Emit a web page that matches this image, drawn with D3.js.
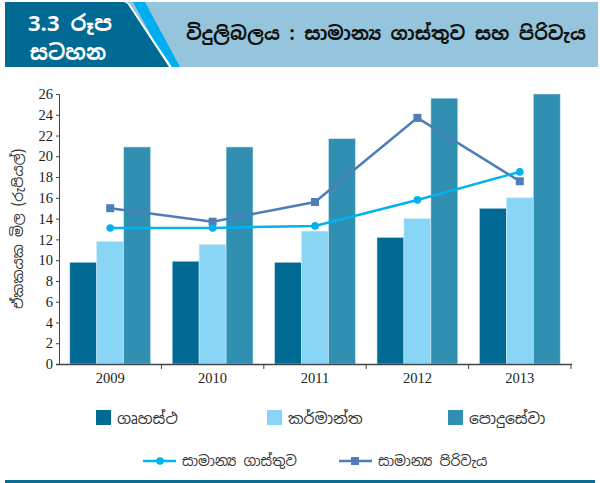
<!DOCTYPE html>
<html>
<head>
<meta charset="utf-8">
<script src="https://cdn.jsdelivr.net/npm/d3@7/dist/d3.min.js"></script>
<style>
  body { margin: 0; background: #fff; }
  svg { display: block; }
  .si { font-family: "Noto Sans Sinhala", "Iskoola Pota", "Noto Sans", sans-serif; }
  .tick text { font-family: "Liberation Serif", "DejaVu Serif", serif; }
</style>
</head>
<body>
<div id="chart"></div>
<script>
var years = ["2009", "2010", "2011", "2012", "2013"];
var barKeys = ["ගෘහස්ථ", "කර්මාන්ත", "පොදුසේවා"];
var domestic = [9.8, 9.9, 9.8, 12.2, 15.0];
var industrial = [11.8, 11.5, 12.8, 14.0, 16.0];
var publicService = [20.9, 20.9, 21.7, 25.6, 26.0];
var avgTariff = [13.1, 13.1, 13.3, 15.8, 18.5];
var avgCost = [15.0, 13.7, 15.6, 23.7, 17.6];
var lineKeys = ["සාමාන්‍ය ගාස්තුව", "සාමාන්‍ය පිරිවැය"];
var yTicks = [0, 2, 4, 6, 8, 10, 12, 14, 16, 18, 20, 22, 24, 26];
var yTitle = "ඒකකයක මිල (රුපියල්)";
var headNum = "3.3 රූප";
var headWord = "සටහන";
var title = "විදුලිබලය : සාමාන්‍ය ගාස්තුව සහ පිරිවැය";

var barColors = ["#006a95", "#89d5f5", "#3190b1"];
var lineColors = ["#00b3ee", "#4d7eb7"];

var W = 600, H = 483;
var svg = d3.select("#chart").append("svg")
	.attr("width", W)
	.attr("height", H);

// header
svg.append("rect").attr("x", 5).attr("y", 2).attr("width", 593).attr("height", 65).attr("fill", "#95c5dc");
svg.append("path")
	.attr("d", "M133,2 L145,2 L180,67 L168,67 Z")
	.attr("fill", "#00aeef");
svg.append("path")
	.attr("d", "M5,2 L124,2 Q129,2 131,6 L172,67 L5,67 Z")
	.attr("fill", "#fff");
svg.append("path")
	.attr("d", "M5,2 L122,2 Q127,2 129,6 L169,67 L5,67 Z")
	.attr("fill", "#006a94");
svg.append("text").attr("class", "si")
	.attr("x", 70).attr("y", 31)
	.attr("text-anchor", "middle")
	.attr("font-size", 22).attr("font-weight", "bold")
	.attr("fill", "#fff")
	.text(headNum);
svg.append("text").attr("class", "si")
	.attr("x", 68).attr("y", 60)
	.attr("text-anchor", "middle")
	.attr("font-size", 21).attr("font-weight", "bold")
	.attr("fill", "#fff")
	.text(headWord);
var tt = svg.append("text").attr("class", "si")
	.attr("x", 186).attr("y", 40)
	.attr("font-size", 21).attr("font-weight", "bold")
	.attr("fill", "#111")
	.text(title);
// fit title into the band like the reference (about 186..586)
var tw = tt.node().getComputedTextLength();
if (tw > 400) tt.attr("font-size", 21 * 400 / tw);

// scales
var x0 = d3.scaleBand().domain(years).range([59, 571]).paddingInner(0).paddingOuter(0);
var x1 = d3.scaleBand().domain(barKeys).range([0, x0.bandwidth()]).paddingInner(0).paddingOuter(0.4);
var y = d3.scaleLinear().domain([0, 26]).range([364, 94]);

var barSeries = [domestic, industrial, publicService];

// bars
var groups = svg.selectAll("g.year")
	.data(years)
	.enter()
	.append("g")
	.attr("class", "year")
	.attr("transform", function(d) { return "translate(" + x0(d) + ",0)"; });

groups.selectAll("rect")
	.data(function(d, i) {
		return barKeys.map(function(k, j) { return { key: k, j: j, v: barSeries[j][i] }; });
	})
	.enter()
	.append("rect")
	.attr("x", function(d) { return x1(d.key); })
	.attr("width", x1.bandwidth())
	.attr("y", function(d) { return y(d.v); })
	.attr("height", function(d) { return y(0) - y(d.v); })
	.attr("fill", function(d) { return barColors[d.j]; })
	.attr("stroke", "#cfe9f4")
	.attr("stroke-width", 0.6);

// axes
var yAxis = svg.append("g")
	.attr("transform", "translate(59,0)")
	.call(d3.axisLeft(y).tickValues(yTicks).tickSize(3).tickPadding(3));
yAxis.selectAll("text").attr("font-size", 14.5).attr("fill", "#222");
yAxis.selectAll("line, path").attr("stroke", "#444");
yAxis.select(".domain").attr("d", "M-3,94.5H0.5V364.5");

var xAxis = svg.append("g")
	.attr("transform", "translate(0,364)")
	.call(d3.axisBottom(x0).tickSize(0).tickPadding(9));
xAxis.selectAll("text").attr("font-size", 14.5).attr("fill", "#222");
xAxis.select(".domain").attr("stroke", "#444").attr("stroke-width", 1.5).attr("d", "M56,0.5H572");
xAxis.selectAll("line.sep")
	.data(years)
	.enter()
	.append("line")
	.attr("class", "sep")
	.attr("x1", function(d) { return x0(d) + x0.bandwidth(); })
	.attr("x2", function(d) { return x0(d) + x0.bandwidth(); })
	.attr("y1", 0).attr("y2", 5)
	.attr("stroke", "#444");

svg.append("text").attr("class", "si")
	.attr("transform", "translate(23,229) rotate(-90)")
	.attr("text-anchor", "middle")
	.attr("font-size", 14)
	.attr("fill", "#333")
	.text(yTitle);

// lines
var cx = function(d, i) { return x0(years[i]) + x0.bandwidth() / 2; };
var line = d3.line().x(cx).y(function(d) { return y(d); });

svg.append("path").datum(avgCost)
	.attr("d", line).attr("fill", "none")
	.attr("stroke", lineColors[1]).attr("stroke-width", 2.5);
svg.selectAll("rect.sq")
	.data(avgCost)
	.enter()
	.append("rect")
	.attr("class", "sq")
	.attr("x", function(d, i) { return cx(d, i) - 4; })
	.attr("y", function(d) { return y(d) - 4; })
	.attr("width", 8).attr("height", 8)
	.attr("fill", lineColors[1]);

svg.append("path").datum(avgTariff)
	.attr("d", line).attr("fill", "none")
	.attr("stroke", lineColors[0]).attr("stroke-width", 2.5);
svg.selectAll("circle.dot")
	.data(avgTariff)
	.enter()
	.append("circle")
	.attr("class", "dot")
	.attr("cx", cx)
	.attr("cy", function(d) { return y(d); })
	.attr("r", 3.8)
	.attr("fill", lineColors[0]);

// legend, bars
var legX = [96, 267, 448];
barKeys.forEach(function(k, j) {
	svg.append("rect")
		.attr("x", legX[j]).attr("y", 410)
		.attr("width", 15).attr("height", 15)
		.attr("fill", barColors[j]);
	svg.append("text").attr("class", "si")
		.attr("x", legX[j] + 21).attr("y", 424)
		.attr("font-size", 15.5).attr("fill", "#333")
		.text(k);
});

// legend, lines
var legLX = [143, 339];
lineKeys.forEach(function(k, j) {
	svg.append("line")
		.attr("x1", legLX[j]).attr("x2", legLX[j] + 33)
		.attr("y1", 461).attr("y2", 461)
		.attr("stroke", lineColors[j]).attr("stroke-width", 2.5);
	if (j === 0) {
		svg.append("circle").attr("cx", legLX[j] + 17).attr("cy", 461).attr("r", 3.8).attr("fill", lineColors[j]);
	} else {
		svg.append("rect").attr("x", legLX[j] + 12).attr("y", 457).attr("width", 8).attr("height", 8).attr("fill", lineColors[j]);
	}
	svg.append("text").attr("class", "si")
		.attr("x", legLX[j] + 39).attr("y", 466)
		.attr("font-size", 14).attr("fill", "#333")
		.text(k);
});

// bottom band
svg.append("rect").attr("x", 5).attr("y", 480).attr("width", 590).attr("height", 3).attr("fill", "#0a6e94");
</script>
</body>
</html>
